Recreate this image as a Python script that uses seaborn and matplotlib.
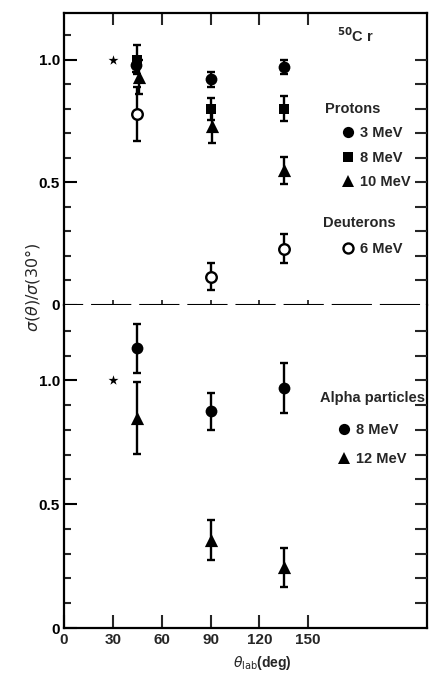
import numpy as np
import pandas as pd
import matplotlib
matplotlib.use("Agg")
import matplotlib.pyplot as plt
import seaborn as sns
from matplotlib.lines import Line2D
from matplotlib.ticker import FixedLocator

# ---------------- data ----------------
ref_angle = [30]
ref_ratio = [1.0]

# Protons
p3_angle = [44, 90, 135]
p3_ratio = [0.98, 0.92, 0.97]
p3_err = [0.03, 0.03, 0.03]

p8_angle = [45, 90, 135]
p8_ratio = [1.00, 0.80, 0.80]
p8_err = [0.06, 0.045, 0.05]

p10_angle = [46, 91, 135]
p10_ratio = [0.93, 0.73, 0.55]
p10_err = [0.07, 0.07, 0.055]

# Deuterons
d6_angle = [45, 90, 135]
d6_ratio = [0.78, 0.115, 0.23]
d6_err = [0.11, 0.055, 0.06]

# Alpha particles
a8_angle = [45, 90, 135]
a8_ratio = [1.13, 0.875, 0.97]
a8_err = [0.10, 0.075, 0.10]

a12_angle = [45, 90, 135]
a12_ratio = [0.85, 0.355, 0.245]
a12_err = [0.145, 0.08, 0.08]

x_ticks = [0, 30, 60, 90, 120, 150]
x_ticklabels = ["0", "30", "60", "90", "120", "150"]
y_ticks = [0, 0.5, 1.0]
y_ticklabels = ["0", "0.5", "1.0"]

proton_labels = ["3 MeV", "8 MeV", "10 MeV"]
deuteron_labels = ["6 MeV"]
alpha_labels = ["8 MeV", "12 MeV"]

# ---------------- style ----------------
sns.set_theme(style="ticks")
plt.rcParams["font.family"] = ["Liberation Sans", "DejaVu Sans"]
plt.rcParams["mathtext.fontset"] = "dejavusans"

FW = "bold"
LW_SPINE = 1.6
XMAX = 223

fig = plt.figure(figsize=(4.35, 6.75), dpi=100)
left, width = 64 / 435, (427 - 64) / 435
ax_top = fig.add_axes([left, (675 - 305) / 675, width, 292 / 675])
ax_bot = fig.add_axes([left, (675 - 628) / 675, width, 323 / 675])

STYLES = {
    "circle": dict(marker="o", size=8.5, filled=True),
    "square": dict(marker="s", size=7.3, filled=True),
    "triangle": dict(marker="^", size=9.5, filled=True),
    "open": dict(marker="o", size=7.6, filled=False),
    "star": dict(marker="*", size=7.5, filled=True),
}


def draw(ax, angle, ratio, err, kind):
    st = STYLES[kind]
    df = pd.DataFrame({"angle": angle, "ratio": ratio})
    if err is not None:
        ax.errorbar(angle, ratio, yerr=err, fmt="none", ecolor="black",
                    elinewidth=1.7, capsize=2.7, capthick=1.7, zorder=2)
    sns.scatterplot(data=df, x="angle", y="ratio", ax=ax, marker=st["marker"],
                    s=st["size"] ** 2,
                    color="black" if st["filled"] else "white",
                    edgecolor="black",
                    linewidth=0 if st["filled"] else 1.7,
                    zorder=3, legend=False)


# upper panel
draw(ax_top, ref_angle, ref_ratio, None, "star")
draw(ax_top, p3_angle, p3_ratio, p3_err, "circle")
draw(ax_top, p8_angle, p8_ratio, p8_err, "square")
draw(ax_top, p10_angle, p10_ratio, p10_err, "triangle")
draw(ax_top, d6_angle, d6_ratio, d6_err, "open")

# lower panel
draw(ax_bot, ref_angle, ref_ratio, None, "star")
draw(ax_bot, a8_angle, a8_ratio, a8_err, "circle")
draw(ax_bot, a12_angle, a12_ratio, a12_err, "triangle")

ax_top.set_xlim(0, XMAX)
ax_bot.set_xlim(0, XMAX)
ax_top.set_ylim(0, 1.19)
ax_bot.set_ylim(0, 1.305)

for ax in (ax_top, ax_bot):
    ax.set_xlabel("")
    ax.set_ylabel("")
    for s in ax.spines.values():
        s.set_linewidth(LW_SPINE)
        s.set_color("black")
    ax.yaxis.set_major_locator(FixedLocator(y_ticks))
    ax.set_yticklabels(y_ticklabels, fontsize=11, fontweight=FW)
    ax.tick_params(axis="y", which="major", direction="in", length=9.5,
                   width=1.5, left=True, right=False, pad=3, colors="black")
    ax.tick_params(axis="y", which="minor", direction="in", length=5,
                   width=1.5, left=True, right=False)

ax_top.yaxis.set_minor_locator(FixedLocator(np.arange(0.1, 1.15, 0.1)))
ax_bot.yaxis.set_minor_locator(FixedLocator(np.arange(0.1, 1.25, 0.1)))

# x axis of upper panel: ticks on top and small ticks on the dashed line
ax_top.xaxis.set_major_locator(FixedLocator(x_ticks[1:]))
ax_top.xaxis.set_minor_locator(FixedLocator(x_ticks[1:]))
ax_top.xaxis.remove_overlapping_locs = False
ax_top.tick_params(axis="x", which="major", direction="in", top=True,
                   bottom=False, labelbottom=False, labeltop=False,
                   length=8.6, width=1.5)
ax_top.tick_params(axis="x", which="minor", direction="in", top=False,
                   bottom=True, labelbottom=False, length=3.6, width=1.3)
ax_top.spines["bottom"].set_linewidth(1.5)
ax_top.spines["bottom"].set_linestyle((9.6, (18.3, 4.8)))

# x axis of lower panel
ax_bot.xaxis.set_major_locator(FixedLocator(x_ticks))
ax_bot.set_xticklabels(x_ticklabels, fontsize=11, fontweight=FW)
ax_bot.tick_params(axis="x", which="major", direction="in", top=False,
                   bottom=True, length=9.5, width=1.5, pad=3.5)
ax_bot.spines["top"].set_visible(False)

# right-hand ticks every 0.1
for ax, top in ((ax_top, 1.05), (ax_bot, 1.25)):
    tw = ax.twinx()
    tw.set_ylim(ax.get_ylim())
    tw.yaxis.set_major_locator(FixedLocator(np.arange(0.1, top, 0.1)))
    tw.tick_params(axis="y", direction="in", length=8.6, width=1.5,
                   labelright=False, right=True)
    for s in tw.spines.values():
        s.set_visible(False)
    tw.grid(False)

# axis labels
ax_bot.set_xlabel(r"$\theta_{\rm lab}$(deg)", fontsize=10, fontweight=FW)
ax_bot.xaxis.set_label_coords(0.548, -0.082)
fig.text(33 / 435, 1 - 287 / 675, r"$\sigma(\theta)/\sigma(30°)$",
         rotation=90, ha="center", va="center", fontsize=11.5)

# annotations / legends
ax_top.text(0.752, 0.922, r"$^{\mathbf{50}}$C r", transform=ax_top.transAxes,
            fontsize=10.5, fontweight=FW, ha="left", va="center")
ax_top.text(0.719, 0.671, "Protons", transform=ax_top.transAxes,
            fontsize=10.5, fontweight=FW, ha="left", va="center")
ax_top.text(0.713, 0.281, "Deuterons", transform=ax_top.transAxes,
            fontsize=10.5, fontweight=FW, ha="left", va="center")
ax_bot.text(0.705, 0.712, "Alpha particles", transform=ax_bot.transAxes,
            fontsize=10.5, fontweight=FW, ha="left", va="center")


def handle(kind):
    st = STYLES[kind]
    return Line2D([], [], linestyle="none", marker=st["marker"],
                  markersize=st["size"] * 0.95,
                  markerfacecolor="black" if st["filled"] else "white",
                  markeredgecolor="black",
                  markeredgewidth=0 if st["filled"] else 1.7)


leg_kw = dict(frameon=False, loc="upper left", borderpad=0, borderaxespad=0,
              handlelength=0.8, handletextpad=0.45,
              prop=dict(size=10.5, weight=FW))

leg1 = ax_top.legend([handle("circle"), handle("square"), handle("triangle")],
                     proton_labels, bbox_to_anchor=(0.765, 0.612),
                     labelspacing=0.72, **leg_kw)
ax_top.add_artist(leg1)
ax_top.legend([handle("open")], deuteron_labels,
              bbox_to_anchor=(0.765, 0.215), **leg_kw)
ax_bot.legend([handle("circle"), handle("triangle")], alpha_labels,
              bbox_to_anchor=(0.755, 0.635), labelspacing=1.05, **leg_kw)

fig.savefig("out.png", dpi=100)
